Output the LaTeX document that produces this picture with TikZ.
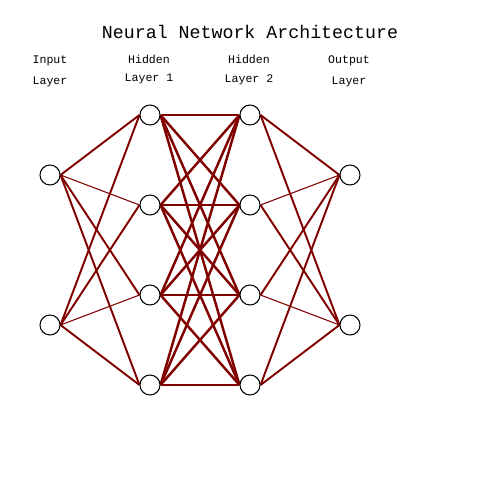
\documentclass[tikz,border=0pt]{standalone}
\usepackage{fontspec}
\setmonofont{Liberation Mono}
\usepackage{tikz}
\pgfdeclarelayer{edgelayer}
\pgfdeclarelayer{nodelayer}
\pgfsetlayers{edgelayer,nodelayer,main}
\definecolor{wire}{RGB}{128,0,0}
\tikzstyle{neuron}=[circle,fill=white,draw=black,line width=0.6pt,minimum size=0.4cm,inner sep=0pt]
\tikzstyle{heading}=[font=\ttfamily\fontsize{10.4}{12}\selectfont,inner sep=0pt,anchor=base]
\tikzstyle{caption}=[font=\ttfamily\fontsize{6.6}{8}\selectfont,inner sep=0pt,anchor=base]
\tikzstyle{weight}=[draw=wire,line width=1.1pt]
\tikzstyle{weak}=[draw=wire,line width=0.6pt]
\tikzstyle{strong}=[draw=wire,line width=1.4pt]

\begin{document}
\begin{tikzpicture}[x=0.02cm,y=-0.02cm]
	\useasboundingbox (0,0) rectangle (500,500);
	\begin{pgfonlayer}{nodelayer}
		\node [style=heading] (title) at (250, 39) {Neural Network Architecture};
		\node [style=caption] (t0) at (50, 64) {Input};
		\node [style=caption] (b0) at (50, 85) {Layer};
		\node [style=caption] (t1) at (149, 64) {Hidden};
		\node [style=caption] (b1) at (149, 82) {Layer 1};
		\node [style=caption] (t2) at (249, 64) {Hidden};
		\node [style=caption] (b2) at (249, 83) {Layer 2};
		\node [style=caption] (t3) at (349, 64) {Output};
		\node [style=caption] (b3) at (349, 85) {Layer};
		\node [style=neuron] (i1) at (50, 175) {};
		\node [style=neuron] (i2) at (50, 325) {};
		\node [style=neuron] (a1) at (150, 115) {};
		\node [style=neuron] (a2) at (150, 205) {};
		\node [style=neuron] (a3) at (150, 295) {};
		\node [style=neuron] (a4) at (150, 385) {};
		\node [style=neuron] (b1n) at (250, 115) {};
		\node [style=neuron] (b2n) at (250, 205) {};
		\node [style=neuron] (b3n) at (250, 295) {};
		\node [style=neuron] (b4n) at (250, 385) {};
		\node [style=neuron] (o1) at (350, 175) {};
		\node [style=neuron] (o2) at (350, 325) {};
	\end{pgfonlayer}
	\begin{pgfonlayer}{edgelayer}
		% input -> hidden 1
		\draw [style=weight] (i1.east) -- (a1.west);
		\draw [style=weak] (i1.east) -- (a2.west);
		\draw [style=weight] (i1.east) -- (a3.west);
		\draw [style=weight] (i1.east) -- (a4.west);
		\draw [style=weight] (i2.east) -- (a1.west);
		\draw [style=weight] (i2.east) -- (a2.west);
		\draw [style=weak] (i2.east) -- (a3.west);
		\draw [style=weight] (i2.east) -- (a4.west);
		% hidden 1 -> hidden 2
		\draw [style=strong] (a1.east) -- (b1n.west);
		\draw [style=strong] (a1.east) -- (b2n.west);
		\draw [style=strong] (a1.east) -- (b3n.west);
		\draw [style=strong] (a1.east) -- (b4n.west);
		\draw [style=strong] (a2.east) -- (b1n.west);
		\draw [style=strong] (a2.east) -- (b2n.west);
		\draw [style=strong] (a2.east) -- (b3n.west);
		\draw [style=strong] (a2.east) -- (b4n.west);
		\draw [style=strong] (a3.east) -- (b1n.west);
		\draw [style=strong] (a3.east) -- (b2n.west);
		\draw [style=strong] (a3.east) -- (b3n.west);
		\draw [style=strong] (a3.east) -- (b4n.west);
		\draw [style=strong] (a4.east) -- (b1n.west);
		\draw [style=strong] (a4.east) -- (b2n.west);
		\draw [style=strong] (a4.east) -- (b3n.west);
		\draw [style=strong] (a4.east) -- (b4n.west);
		% hidden 2 -> output
		\draw [style=weight] (b1n.east) -- (o1.west);
		\draw [style=weight] (b1n.east) -- (o2.west);
		\draw [style=weak] (b2n.east) -- (o1.west);
		\draw [style=weight] (b2n.east) -- (o2.west);
		\draw [style=weight] (b3n.east) -- (o1.west);
		\draw [style=weak] (b3n.east) -- (o2.west);
		\draw [style=weight] (b4n.east) -- (o1.west);
		\draw [style=weight] (b4n.east) -- (o2.west);
	\end{pgfonlayer}
\end{tikzpicture}
\end{document}
